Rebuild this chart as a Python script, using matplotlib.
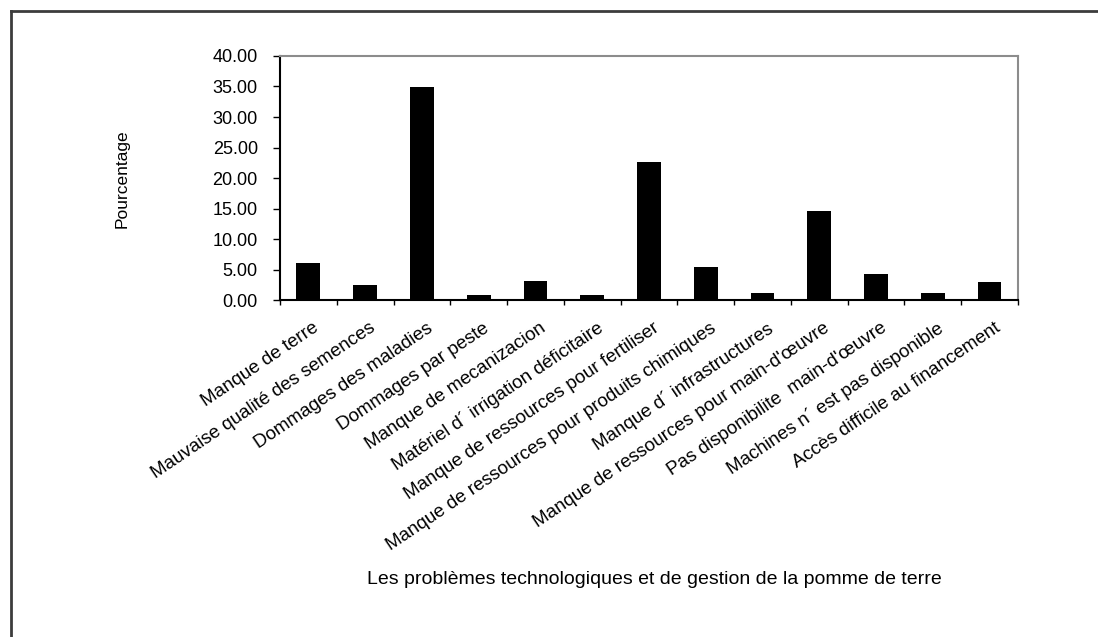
import numpy as np
import matplotlib
matplotlib.use("Agg")
import matplotlib.pyplot as plt
from matplotlib.lines import Line2D

plt.rcParams['font.family'] = ['Liberation Sans', 'DejaVu Sans']

problemes = [
    "Manque de terre",
    "Mauvaise qualité des semences",
    "Dommages des maladies",
    "Dommages par peste",
    "Manque de mecanizacion",
    "Matériel d´ irrigation déficitaire",
    "Manque de ressources pour fertiliser",
    "Manque de ressources pour produits chimiques",
    "Manque d´ infrastructures",
    "Manque de ressources pour main-d'œuvre",
    "Pas disponibilite  main-d'œuvre",
    "Machines n´ est pas disponible",
    "Accès difficile au financement",
]
pourcentage = [6.15, 2.46, 34.85, 0.77, 3.08, 0.77, 22.62, 5.38, 1.15, 14.62, 4.23, 1.15, 3.0]
yticks = [0, 5, 10, 15, 20, 25, 30, 35, 40]

fig = plt.figure(figsize=(10.98, 6.37), dpi=100)
ax = fig.add_axes([0.2550, 0.5290, 0.6721, 0.3831])

x = np.arange(len(problemes))
ax.bar(x, pourcentage, width=0.42, color='black')

ax.set_xlim(-0.5, len(problemes) - 0.5)
ax.set_ylim(0, 40)
ax.set_yticks(yticks)
ax.set_yticklabels(["%.2f" % v for v in yticks], fontsize=13)
ax.tick_params(axis='y', direction='out', length=5, width=1, pad=11)

# ticks between categories, labels centred under the bars
ax.set_xticks(np.arange(len(problemes) + 1) - 0.5)
ax.set_xticklabels([])
ax.tick_params(axis='x', direction='out', length=3.5, width=1)
for xi, lab in zip(x, problemes):
    ax.annotate(lab, xy=(xi, 0), xycoords=('data', 'axes fraction'),
                xytext=(3, -14), textcoords='offset points',
                ha='right', va='top', rotation=34, rotation_mode='anchor',
                fontsize=13.5)

for side in ['left', 'bottom']:
    ax.spines[side].set_color('black')
    ax.spines[side].set_linewidth(1.5)
for side in ['top', 'right']:
    ax.spines[side].set_color('#8c8c8c')
    ax.spines[side].set_linewidth(1.5)

fig.text(122 / 1098, 1 - 179 / 637, "Pourcentage", rotation=90,
         ha='center', va='center', fontsize=12.5,
         family=['Liberation Sans Narrow', 'Liberation Sans'])
fig.text(654 / 1098, 1 - 580 / 637,
         "Les problèmes technologiques et de gestion de la pomme de terre",
         ha='center', va='center', fontsize=14)

# outer chart frame (top and left edges)
fig.add_artist(Line2D([11 / 1098, 1], [1 - 11 / 637, 1 - 11 / 637],
                      transform=fig.transFigure, color='#3c3c3c', lw=2))
fig.add_artist(Line2D([11 / 1098, 11 / 1098], [0, 1 - 11 / 637],
                      transform=fig.transFigure, color='#3c3c3c', lw=2))

fig.savefig("out.png", dpi=100, facecolor='white')
